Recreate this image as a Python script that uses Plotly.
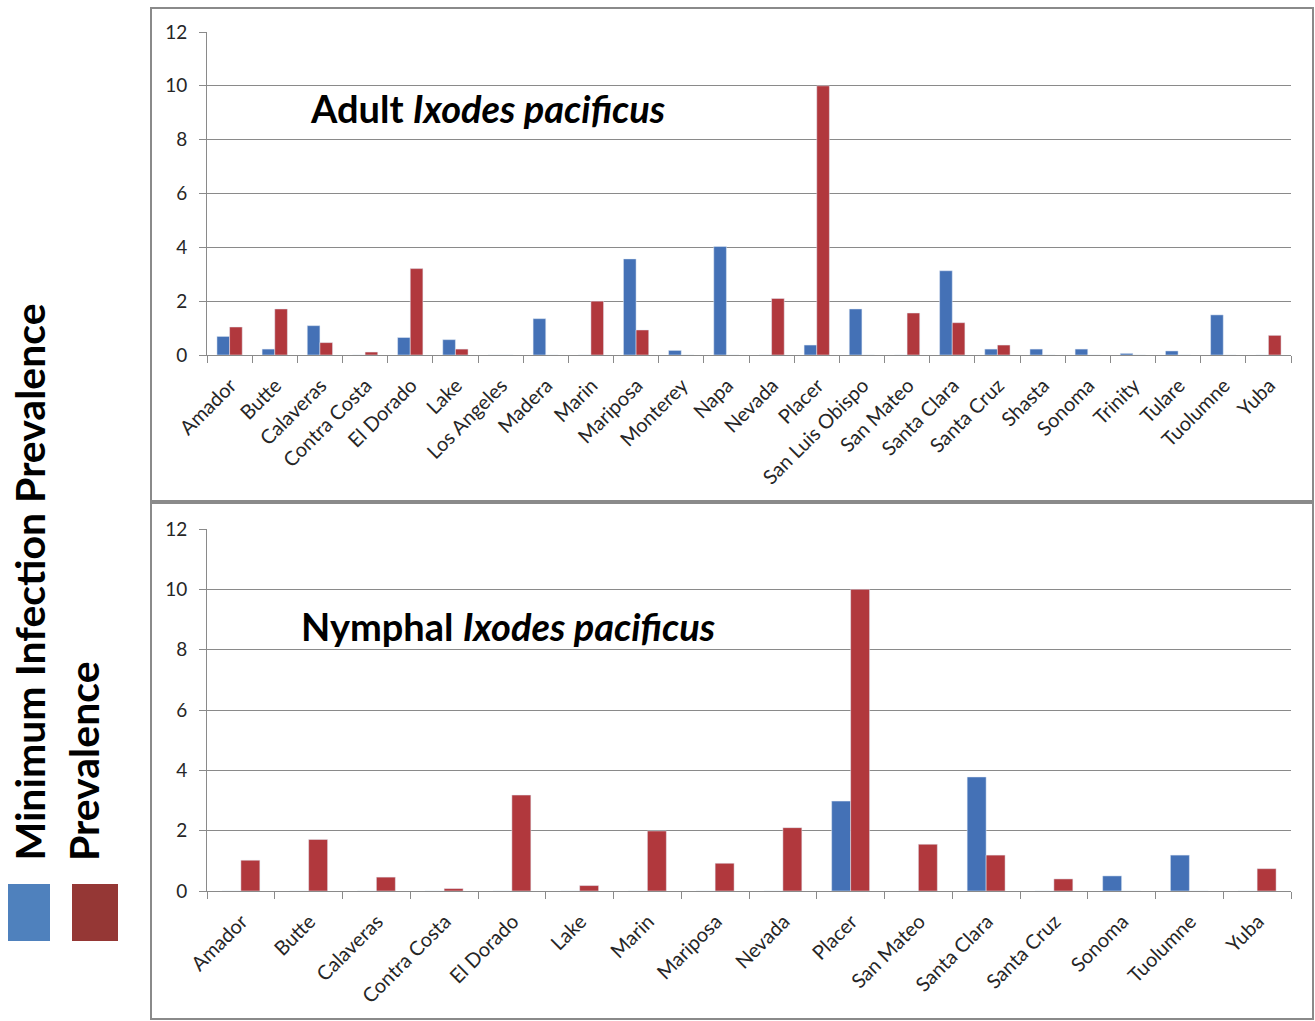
import plotly.graph_objects as go

# Counties sampled for adult ticks
adult_counties = ["Amador", "Butte", "Calaveras", "Contra Costa", "El Dorado", "Lake",
                  "Los Angeles", "Madera", "Marin", "Mariposa", "Monterey", "Napa",
                  "Nevada", "Placer", "San Luis Obispo", "San Mateo", "Santa Clara",
                  "Santa Cruz", "Shasta", "Sonoma", "Trinity", "Tulare", "Tuolumne", "Yuba"]
adult_mip = [0.69, 0.22, 1.09, 0, 0.65, 0.57, 0, 1.35, 0, 3.57, 0.17, 4.03,
             0, 0.37, 1.71, 0, 3.13, 0.22, 0.22, 0.22, 0.06, 0.15, 1.49, 0]
adult_prev = [1.04, 1.71, 0.46, 0.11, 3.21, 0.22, 0, 0, 2.0, 0.93, 0, 0,
              2.10, 10.0, 0, 1.56, 1.20, 0.37, 0, 0, 0, 0, 0, 0.73]

# Counties sampled for nymphal ticks
nymph_counties = ["Amador", "Butte", "Calaveras", "Contra Costa", "El Dorado", "Lake",
                  "Marin", "Mariposa", "Nevada", "Placer", "San Mateo", "Santa Clara",
                  "Santa Cruz", "Sonoma", "Tuolumne", "Yuba"]
nymph_mip = [0, 0, 0, 0, 0, 0, 0, 0, 0, 2.98, 0, 3.78, 0, 0.50, 1.19, 0]
nymph_prev = [1.02, 1.71, 0.46, 0.08, 3.18, 0.18, 1.99, 0.92, 2.10, 10.0, 1.55, 1.19,
              0.40, 0, 0, 0.74]

y_ticks = [0, 2, 4, 6, 8, 10, 12]

legend_labels = ["Minimum Infection Prevalence", "Prevalence"]
titles = ["Adult <i>Ixodes pacificus</i>", "Nymphal <i>Ixodes pacificus</i>"]

BLUE = "#4471B6"
RED = "#B1383D"
LEG_BLUE = "#4F81BD"
LEG_RED = "#953735"
GRID = "#8A8A8A"
FONT = "Lato, Open Sans, sans-serif"

W, H = 1315, 1021


def px_x(v):
    return v / W


def px_y(v):
    return 1 - v / H


fig = go.Figure()

fig.add_trace(go.Bar(x=adult_counties, y=adult_mip, marker_color=BLUE,
                     name=legend_labels[0], xaxis="x", yaxis="y", showlegend=False))
fig.add_trace(go.Bar(x=adult_counties, y=adult_prev, marker_color=RED,
                     name=legend_labels[1], xaxis="x", yaxis="y", showlegend=False))
fig.add_trace(go.Bar(x=nymph_counties, y=nymph_mip, marker_color=BLUE,
                     name=legend_labels[0], xaxis="x2", yaxis="y2", showlegend=False))
fig.add_trace(go.Bar(x=nymph_counties, y=nymph_prev, marker_color=RED,
                     name=legend_labels[1], xaxis="x2", yaxis="y2", showlegend=False))

x_dom = [px_x(207), px_x(1291)]

xaxis_common = dict(
    type="category", showline=True, linecolor=GRID, linewidth=1,
    ticks="outside", tickson="boundaries", ticklen=7, tickcolor=GRID,
    tickangle=-45, showgrid=False, zeroline=False, automargin=False,
    ticklabelstandoff=10, ticklabelshift=1,
    tickfont=dict(family=FONT, size=20, color="#262626"),
)
yaxis_common = dict(
    range=[0, 12], tickvals=y_ticks, showline=True, linecolor=GRID, linewidth=1,
    ticks="outside", ticklen=7, tickcolor=GRID, showgrid=True, gridcolor=GRID,
    gridwidth=1, zeroline=False, automargin=False, ticklabelstandoff=8,
    tickfont=dict(family=FONT, size=19, color="#262626"),
)

fig.update_layout(
    width=W, height=H,
    margin=dict(l=0, r=0, t=0, b=0, pad=0),
    paper_bgcolor="white", plot_bgcolor="white",
    barmode="group", bargap=0.44, bargroupgap=0,
    xaxis=dict(domain=x_dom, anchor="y", **xaxis_common),
    yaxis=dict(domain=[px_y(355), px_y(32)], anchor="x", **yaxis_common),
    xaxis2=dict(domain=x_dom, anchor="y2", **xaxis_common),
    yaxis2=dict(domain=[px_y(891), px_y(529)], anchor="x2", **yaxis_common),
)

# Panel frames
for y0, y1 in [(8, 501), (503, 1019)]:
    fig.add_shape(type="rect", xref="paper", yref="paper",
                  x0=px_x(151), x1=px_x(1313), y0=px_y(y1), y1=px_y(y0),
                  line=dict(color="#8A8A8A", width=2), fillcolor="rgba(0,0,0,0)")

# Panel titles
title_pos = [(488, 108), (508, 626)]
for txt, (tx, ty) in zip(titles, title_pos):
    fig.add_annotation(text="<b>" + txt + "</b>", xref="paper", yref="paper",
                       x=px_x(tx), y=px_y(ty), xanchor="center", yanchor="middle",
                       showarrow=False,
                       font=dict(family=FONT, size=38, color="black", weight=900))

# Legend built from rotated labels and colour swatches
for txt, lx in zip(legend_labels, [29, 83]):
    fig.add_annotation(text="<b>" + txt + "</b>", xref="paper", yref="paper",
                       x=px_x(lx), y=px_y(863), xanchor="center", yanchor="bottom",
                       textangle=-90, showarrow=False,
                       font=dict(family=FONT, size=41, color="black", weight=900))
fig.add_shape(type="rect", xref="paper", yref="paper",
              x0=px_x(8), x1=px_x(50), y0=px_y(941), y1=px_y(884),
              line=dict(width=0), fillcolor=LEG_BLUE)
fig.add_shape(type="rect", xref="paper", yref="paper",
              x0=px_x(72), x1=px_x(118), y0=px_y(941), y1=px_y(884),
              line=dict(width=0), fillcolor=LEG_RED)

fig.write_html("out.html")
